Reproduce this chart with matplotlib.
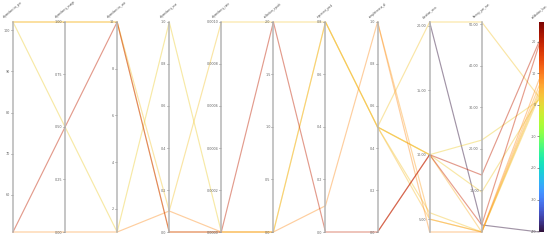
import numpy as np
import matplotlib
matplotlib.use("Agg")
import matplotlib.pyplot as plt
from matplotlib import colors
from matplotlib.ticker import FixedLocator, FormatStrFormatter

nan = np.nan

# axis names (11th variable is shown by the colorbar)
names = ["dependencies_per", "dependency_usage", "dependencies_use",
         "dependency_use", "dependency_rate", "collection_epoch",
         "represent_pred", "completeness_al", "duration_secs",
         "latency_per_run", "validation_loss"]

# one value per run (line) for each variable
dep_per      = [102, 51, 102, 51, 102, nan, nan, nan, nan, nan, nan]
dep_usage    = [1.0, 0.5, 0.5, 0.0, 1.0, nan, nan, nan, nan, nan, nan]
dep_usage_p  = [10, 10, 1, 1, 10, nan, nan, nan, nan, nan, nan]
dep_use      = [0.1, 0.0, 1.0, 0.1, 0.0, nan, nan, nan, nan, nan, nan]
dep_rate     = [0.001, 0.0, 0.0, 0.0, 0.0, nan, nan, nan, nan, nan, nan]
coll_epochs  = [2.0, 2.0, 0.0, 0.0, 0.0, nan, nan, nan, nan, nan, nan]
repr_pred    = [0.8, 0.0, 0.8, 0.1, 0.8, nan, nan, nan, nan, nan, nan]
compl_allow  = [0.5, 0.0, 0.5, 1.0, 0.5, 0.5, 0.5, 0.0, 0.5, nan, 1.0]
duration     = [20.3, 10.0, 10.0, 4.0, 10.0, 5.5, 5.0, 10.0, 10.0, 20.3, 5.0]
latency      = [50.5, 13.7, 22.1, 0.0, 0.0, 0.0, 0.0, 1.7, 9.6, 1.7, 0.0]
metric       = [2.5, 20.0, 1.5, 8.0, 4.5, 2.5, 3.5, 19.0, 2.0, -40.3, 6.0]
metric_range = (-40.3, 26.3)

columns = [dep_per, dep_usage, dep_usage_p, dep_use, dep_rate, coll_epochs,
           repr_pred, compl_allow, duration, latency, metric]

tick_sets = [[60, 70, 80, 90, 100],
             [0.0, 0.25, 0.5, 0.75, 1.0],
             [2, 4, 6, 8, 10],
             [0.0, 0.2, 0.4, 0.6, 0.8, 1.0],
             [0.0, 0.0002, 0.0004, 0.0006, 0.0008, 0.001],
             [0.0, 0.5, 1.0, 1.5, 2.0],
             [0.0, 0.2, 0.4, 0.6, 0.8],
             [0.0, 0.2, 0.4, 0.6, 0.8, 1.0],
             [5, 10, 15, 20],
             [10, 20, 30, 40, 50]]
fmts = ["%d", "%.2f", "%d", "%.1f", "%.4f", "%.1f", "%.1f", "%.1f", "%.2f", "%.2f"]
metric_ticks = [-40, -30, -20, -10, 0, 10, 20]

W, H = 550, 243
fig = plt.figure(figsize=(W / 100, H / 100), dpi=100)
fig.patch.set_facecolor("white")

xs = [0, 1, 2, 3, 4, 5, 6, 7, 8, 9, 10.1]
host = fig.add_axes([13 / W, 11 / H, (539 - 13) / W, 210 / H])
host.set_xlim(0, 10.1)
host.set_ylim(0, 1)
host.axis("off")

data = np.array(columns, dtype=float)  # shape (vars, runs)
lo = np.nanmin(data, axis=1)
hi = np.nanmax(data, axis=1)
lo[-1], hi[-1] = metric_range
norm_data = (data - lo[:, None]) / (hi - lo)[:, None]

cmap = plt.get_cmap("turbo")
cnorm = colors.Normalize(vmin=lo[-1], vmax=hi[-1])

fs = 2.4
axis_color = "#b5b5b5"

for i in range(10):
    par = host.twinx()
    par.set_ylim(lo[i], hi[i])
    for s in par.spines.values():
        s.set_visible(False)
    par.spines["left"].set_visible(True)
    par.spines["left"].set_position(("data", xs[i]))
    par.spines["left"].set_color(axis_color)
    par.spines["left"].set_linewidth(1.1)
    par.yaxis.set_ticks_position("left")
    par.yaxis.set_major_locator(FixedLocator(tick_sets[i]))
    par.yaxis.set_major_formatter(FormatStrFormatter(fmts[i]))
    par.tick_params(axis="y", length=1.5, width=0.5, colors="#666666",
                    labelsize=fs, pad=0.6)
    par.set_xticks([])
    par.patch.set_visible(False)

order = np.argsort(data[-1])
for j in order:
    c = cmap(cnorm(data[-1, j]))
    host.plot(xs, norm_data[:, j], color=c, alpha=0.45, lw=0.85,
              clip_on=False, zorder=3)

for i, name in enumerate(names):
    host.text(xs[i], 1.012, name, rotation=40, ha="center", va="bottom",
              fontsize=1.9, color="#444444", clip_on=False)

cax = fig.add_axes([539 / W, 11 / H, 5 / W, 210 / H])
sm = matplotlib.cm.ScalarMappable(norm=cnorm, cmap=cmap)
cb = fig.colorbar(sm, cax=cax)
cb.outline.set_visible(False)
cb.set_ticks(metric_ticks)
cb.ax.yaxis.set_ticks_position("left")
cb.ax.tick_params(length=1.5, width=0.5, colors="#666666", labelsize=fs, pad=0.6)
cb.ax.yaxis.set_major_formatter(FormatStrFormatter("%d"))

fig.savefig("out.png", dpi=100, facecolor="white")
